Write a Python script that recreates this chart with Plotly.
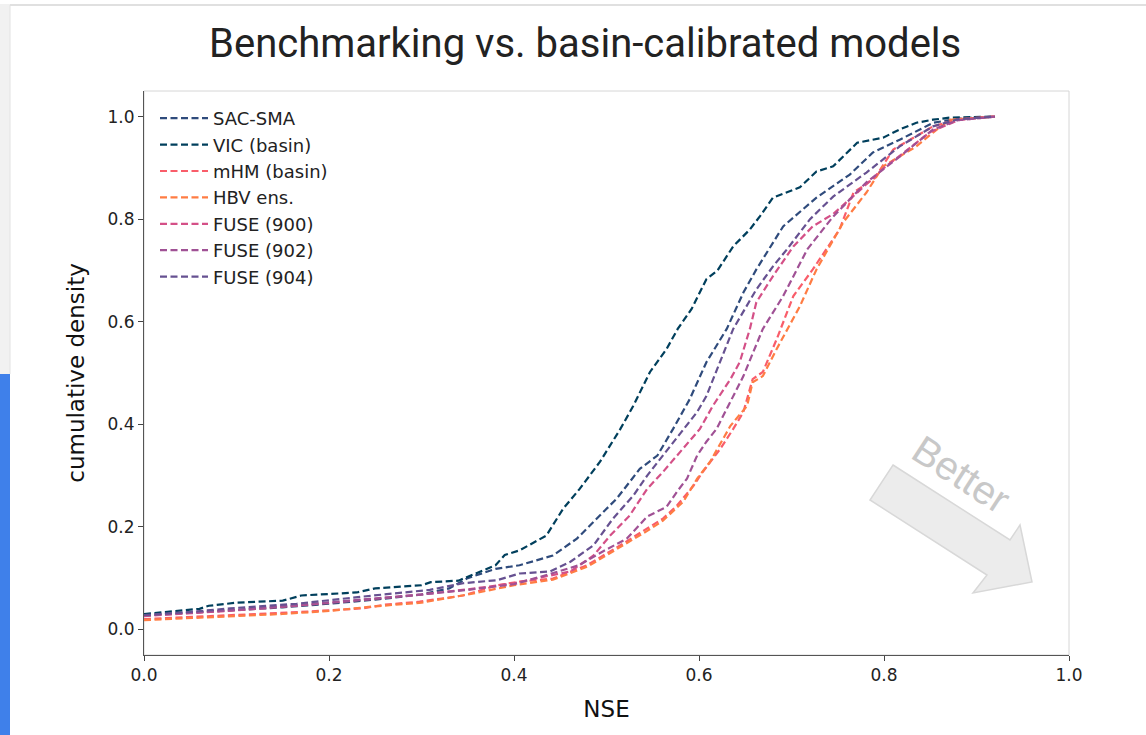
import plotly.graph_objects as go

# ---------------- data ----------------
names = ["SAC-SMA", "VIC (basin)", "mHM (basin)", "HBV ens.", "FUSE (900)", "FUSE (902)", "FUSE (904)"]
colors = ["#2f4b7c", "#003f5c", "#f95d6a", "#ff7c43", "#d45087", "#a05195", "#665191"]

sac_x = [0.0, 0.05, 0.10, 0.15, 0.20, 0.25, 0.30, 0.33, 0.35, 0.38, 0.406, 0.442, 0.468, 0.493, 0.511,
         0.536, 0.555, 0.572, 0.59, 0.608, 0.63, 0.648, 0.662, 0.691, 0.727, 0.763, 0.788, 0.817, 0.853, 0.88, 0.92]
sac_y = [0.027, 0.032, 0.037, 0.043, 0.05, 0.058, 0.068, 0.08, 0.10, 0.118, 0.125, 0.144, 0.177, 0.222, 0.255,
         0.313, 0.339, 0.391, 0.449, 0.521, 0.586, 0.657, 0.702, 0.786, 0.842, 0.887, 0.93, 0.955, 0.988, 0.996, 1.0]

vic_x = [0.0, 0.06, 0.07, 0.10, 0.15, 0.17, 0.20, 0.23, 0.25, 0.30, 0.31, 0.34, 0.36, 0.38, 0.39, 0.406, 0.435,
         0.453, 0.471, 0.493, 0.515, 0.529, 0.547, 0.565, 0.577, 0.592, 0.608, 0.62, 0.637, 0.655, 0.666,
         0.68, 0.709, 0.727, 0.745, 0.771, 0.799, 0.817, 0.835, 0.853, 0.871, 0.92]
vic_y = [0.03, 0.04, 0.046, 0.052, 0.056, 0.066, 0.069, 0.072, 0.08, 0.086, 0.092, 0.095, 0.11, 0.125, 0.145, 0.154,
         0.183, 0.235, 0.274, 0.327, 0.391, 0.436, 0.502, 0.547, 0.586, 0.625, 0.683, 0.70, 0.747, 0.78,
         0.806, 0.842, 0.862, 0.893, 0.903, 0.949, 0.959, 0.975, 0.988, 0.994, 0.998, 1.0]

mhm_x = [0.0, 0.05, 0.10, 0.17, 0.237, 0.26, 0.298, 0.345, 0.382, 0.406, 0.442, 0.479, 0.515, 0.544, 0.561, 0.576,
         0.594, 0.604, 0.623, 0.637, 0.648, 0.658, 0.669, 0.684, 0.702, 0.723, 0.752, 0.767, 0.79, 0.81, 0.853, 0.88, 0.92]
mhm_y = [0.02, 0.024, 0.028, 0.034, 0.041, 0.048, 0.054, 0.066, 0.086, 0.093, 0.099, 0.125, 0.164, 0.196, 0.216, 0.241,
         0.28, 0.307, 0.352, 0.391, 0.424, 0.488, 0.502, 0.566, 0.65, 0.702, 0.78, 0.852, 0.88, 0.936, 0.981, 0.995, 1.0]

hbv_x = [0.0, 0.05, 0.10, 0.15, 0.20, 0.25, 0.30, 0.35, 0.40, 0.442, 0.479, 0.515, 0.544, 0.561, 0.583, 0.598, 0.612,
         0.634, 0.652, 0.658, 0.669, 0.684, 0.696, 0.709, 0.727, 0.756, 0.781, 0.799, 0.835, 0.853, 0.871, 0.92]
hbv_y = [0.018, 0.022, 0.026, 0.03, 0.036, 0.045, 0.052, 0.068, 0.086, 0.097, 0.122, 0.16, 0.192, 0.212, 0.249, 0.294,
         0.327, 0.397, 0.436, 0.482, 0.494, 0.547, 0.586, 0.63, 0.702, 0.794, 0.852, 0.903, 0.942, 0.969, 0.994, 1.0]

f900_x = [0.0, 0.05, 0.10, 0.17, 0.24, 0.30, 0.35, 0.40, 0.439, 0.461, 0.486, 0.504, 0.525, 0.544, 0.561, 0.583,
          0.601, 0.615, 0.634, 0.644, 0.655, 0.662, 0.68, 0.702, 0.723, 0.745, 0.77, 0.80, 0.85, 0.88, 0.92]
f900_y = [0.026, 0.031, 0.037, 0.047, 0.058, 0.068, 0.078, 0.09, 0.105, 0.113, 0.144, 0.183, 0.222, 0.274, 0.307,
          0.352, 0.391, 0.436, 0.488, 0.521, 0.586, 0.638, 0.689, 0.747, 0.786, 0.81, 0.85, 0.90, 0.97, 0.993, 1.0]

f902_x = [0.0, 0.05, 0.10, 0.17, 0.24, 0.30, 0.35, 0.40, 0.439, 0.47, 0.496, 0.522, 0.544, 0.565, 0.576, 0.587,
          0.598, 0.608, 0.619, 0.63, 0.648, 0.669, 0.691, 0.717, 0.745, 0.781, 0.817, 0.853, 0.88, 0.92]
f902_y = [0.027, 0.032, 0.038, 0.048, 0.058, 0.068, 0.077, 0.088, 0.108, 0.125, 0.152, 0.177, 0.22, 0.239, 0.268,
          0.294, 0.339, 0.366, 0.391, 0.43, 0.494, 0.586, 0.65, 0.741, 0.805, 0.872, 0.922, 0.975, 0.993, 1.0]

f904_x = [0.0, 0.05, 0.093, 0.165, 0.237, 0.309, 0.345, 0.382, 0.406, 0.439, 0.461, 0.486, 0.507, 0.529, 0.544,
          0.561, 0.583, 0.598, 0.608, 0.623, 0.637, 0.662, 0.68, 0.695, 0.72, 0.745, 0.781, 0.817, 0.853, 0.88, 0.92]
f904_y = [0.028, 0.034, 0.041, 0.05, 0.064, 0.077, 0.09, 0.096, 0.109, 0.113, 0.132, 0.164, 0.216, 0.261, 0.30,
          0.339, 0.391, 0.424, 0.455, 0.521, 0.586, 0.663, 0.708, 0.741, 0.80, 0.844, 0.891, 0.942, 0.981, 0.995, 1.0]

series_x = [sac_x, vic_x, mhm_x, hbv_x, f900_x, f902_x, f904_x]
series_y = [sac_y, vic_y, mhm_y, hbv_y, f900_y, f902_y, f904_y]

tick_vals = [0.0, 0.2, 0.4, 0.6, 0.8, 1.0]
tick_text = ["0.0", "0.2", "0.4", "0.6", "0.8", "1.0"]

# ---------------- figure ----------------
W, H = 1146, 735
L, R, T, B = 144, 77, 91, 80
pw, ph = W - L - R, H - T - B


def px(xp):
    return (xp - L) / pw


def py(yp):
    return (H - B - yp) / ph


fig = go.Figure()
for n, c, xs, ys in zip(names, colors, series_x, series_y):
    fig.add_trace(go.Scatter(x=xs, y=ys, mode="lines", name=n,
                             line=dict(color=c, width=2.2, dash="7px,3.5px")))

tickfont = dict(family="DejaVu Sans", size=17, color="#222")
fig.update_xaxes(range=[0, 1], tickvals=tick_vals, ticktext=tick_text, ticks="outside", ticklen=5,
                 tickcolor="#444", showgrid=False, zeroline=False, showline=True, linecolor="#555",
                 linewidth=1, tickfont=tickfont,
                 title=dict(text="NSE", font=dict(family="DejaVu Sans", size=23, color="#111"), standoff=16))
fig.update_yaxes(range=[-0.05, 1.05], tickvals=tick_vals, ticktext=tick_text, ticks="outside", ticklen=5,
                 tickcolor="#444", showgrid=False, zeroline=False, showline=True, linecolor="#555",
                 linewidth=1, tickfont=tickfont,
                 title=dict(text="cumulative density", font=dict(family="DejaVu Sans", size=23, color="#111"),
                            standoff=16))

shapes = []
# plot frame (light)
shapes.append(dict(type="rect", xref="paper", yref="paper", x0=0, y0=0, x1=1, y1=1,
                   line=dict(color="#d6d6d6", width=1), layer="below"))
# slide card decorations
shapes.append(dict(type="rect", xref="paper", yref="paper", x0=px(0), x1=px(10), y0=py(735), y1=py(374),
                   fillcolor="#3f80ea", line=dict(width=0), layer="below"))
shapes.append(dict(type="rect", xref="paper", yref="paper", x0=px(0), x1=px(10), y0=py(374), y1=py(4),
                   fillcolor="#f1f1f1", line=dict(width=0), layer="below"))
shapes.append(dict(type="line", xref="paper", yref="paper", x0=px(10), x1=px(10), y0=py(374), y1=py(5),
                   line=dict(color="#e2e2e2", width=1), layer="below"))
shapes.append(dict(type="line", xref="paper", yref="paper", x0=px(10), x1=px(1146), y0=py(5), y1=py(5),
                   line=dict(color="#e0e0e0", width=2), layer="below"))
# "Better" block arrow
pts = [(893, 465), (1010, 540), (1020, 525), (1032, 582), (973, 593), (987, 575), (870, 500)]
path = "M " + " L ".join(f"{px(a):.5f},{py(b):.5f}" for a, b in pts) + " Z"
shapes.append(dict(type="path", xref="paper", yref="paper", path=path, fillcolor="#ececec",
                   line=dict(color="#d8d8d8", width=1.5), layer="below"))

annotations = [
    dict(text="Benchmarking vs. basin-calibrated models", xref="paper", yref="paper", x=px(585), y=py(43),
         xanchor="center", yanchor="middle", showarrow=False,
         font=dict(family="Roboto", size=40, color="#222")),
    dict(text="Better", xref="paper", yref="paper", x=px(961), y=py(474), xanchor="center", yanchor="middle",
         showarrow=False, textangle=33, font=dict(family="Liberation Sans", size=40, color="#c8c8c8")),
]

fig.update_layout(
    width=W, height=H, margin=dict(l=L, r=R, t=T, b=B, autoexpand=False),
    paper_bgcolor="white", plot_bgcolor="white",
    shapes=shapes, annotations=annotations,
    legend=dict(x=px(155), y=py(100), xanchor="left", yanchor="top", bgcolor="rgba(255,255,255,0)",
                font=dict(family="DejaVu Sans", size=18, color="#222"), tracegroupgap=0, itemwidth=48),
    showlegend=True,
)

fig.write_html("out.html")
